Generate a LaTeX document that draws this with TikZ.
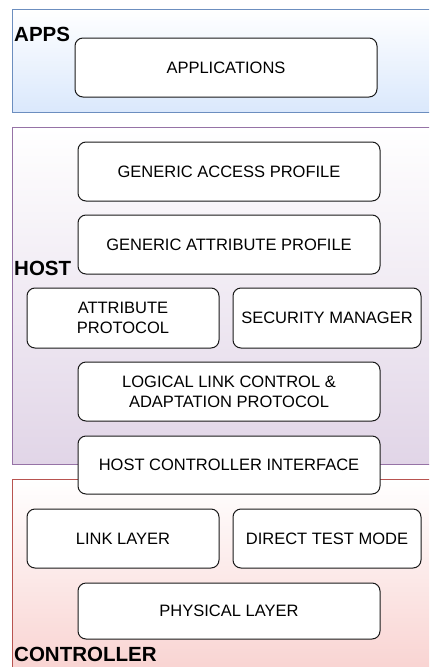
\documentclass[tikz,border=0pt]{standalone}
\usepackage{fontspec}
\setmainfont{Liberation Sans}
\usetikzlibrary{positioning}

\definecolor{appsline}{HTML}{6C8EBF}
\definecolor{appsfill}{HTML}{DAE8FC}
\definecolor{hostline}{HTML}{9673A6}
\definecolor{hostfill}{HTML}{E1D5E7}
\definecolor{ctrlline}{HTML}{B85450}
\definecolor{ctrlfill}{HTML}{F8CECC}

\tikzset{
	layer/.style={draw=black!90, line width=1pt, rounded corners=8pt, fill=white, align=center, inner sep=2pt, text=black, font=\fontsize{16.5}{20}\selectfont},
	wide/.style={layer, minimum width=302pt, minimum height=59pt},
	half/.style={layer, minimum height=60pt},
	group/.style={rectangle, line width=0.9pt, anchor=north west, inner sep=0pt, minimum width=470pt, top color=white},
	grouplabel/.style={anchor=west, inner sep=0pt, font=\bfseries\fontsize{20.5}{24}\selectfont}
}

\begin{document}
\begin{tikzpicture}[x=1pt,y=-1pt]
			\useasboundingbox (0,0) rectangle (429,667);
			\begin{scope}
				\clip (0,0) rectangle (429,667);
				\node[group, draw=appsline, bottom color=appsfill, minimum height=103pt] (apps) at (12,9) {};
				\node[group, draw=hostline, bottom color=hostfill, minimum height=337pt] (host) at (12,127) {};
				\node[group, draw=ctrlline, bottom color=ctrlfill, minimum height=215pt] (ctrl) at (12,479) {};
			\end{scope}
			\node[grouplabel] (appslabel) at (14,34) {APPS};
			\node[grouplabel] (hostlabel) at (14,268) {HOST};
			\node[grouplabel] (ctrllabel) at (14,654) {CONTROLLER};
			\node[wide] (app) at (226,67.5) {APPLICATIONS};
			\node[wide] (gap) at (229,171.5) {GENERIC ACCESS PROFILE};
			\node[wide] (gatt) at (229,244.5) {GENERIC ATTRIBUTE PROFILE};
			\node[half, minimum width=192pt] (att) at (123,318) {ATTRIBUTE\\PROTOCOL};
			\node[half, minimum width=188pt, right=13pt of att] (sm) {SECURITY MANAGER};
			\node[wide] (l2cap) at (229,391.5) {LOGICAL LINK CONTROL \&\\ADAPTATION PROTOCOL};
			\node[wide, minimum height=58pt] (hci) at (229,465) {HOST CONTROLLER INTERFACE};
			\node[half, minimum width=192pt, minimum height=59pt] (ll) at (123,538.5) {LINK LAYER};
			\node[half, minimum width=188pt, minimum height=59pt, right=13pt of ll] (dtm) {DIRECT TEST MODE};
			\node[wide, minimum height=56pt] (phy) at (229,611) {PHYSICAL LAYER};
		\end{tikzpicture}
\end{document}
